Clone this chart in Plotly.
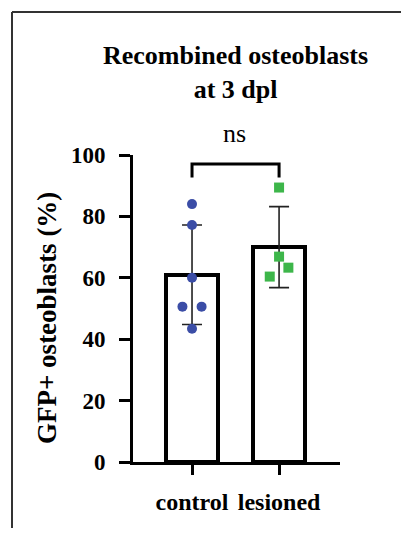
import plotly.graph_objects as go

categories = ["control", "lesioned"]
means = [61.0, 70.0]
sds = [16.2, 13.2]
control_vals = [84.0, 77.2, 60.0, 50.6, 50.6, 43.4]
control_jitter = [0.0, 0.0, 0.0, -0.11, 0.11, 0.0]
lesioned_vals = [89.4, 66.9, 63.3, 60.4]
lesioned_jitter = [0.0, 0.0, 0.107, -0.107]
y_ticks = [0, 20, 40, 60, 80, 100]
title_text = "Recombined osteoblasts<br>at 3 dpl"
y_title = "GFP+ osteoblasts (%)"
sig_label = "ns"

FONT = "Liberation Serif"
OFF = 8  # page body margin
W, H = 393, 520
L, T = 133 - OFF, 155 - OFF
pw, ph = 207, 307
R, B = W - L - pw, H - T - ph

def px_x(px):
    return (px - OFF - L) / pw

def px_y(py):
    return (T + ph - (py - OFF)) / ph

xs = list(range(len(categories)))

fig = go.Figure()
fig.add_trace(go.Bar(
    x=xs, y=means, width=0.6,
    marker=dict(color="white", line=dict(color="black", width=4)),
    hoverinfo="skip", showlegend=False,
))
fig.add_trace(go.Scatter(
    x=xs, y=means, mode="markers",
    marker=dict(size=1, color="rgba(0,0,0,0)"),
    error_y=dict(type="data", array=sds, visible=True, color="#222", thickness=1.6, width=10),
    showlegend=False, hoverinfo="skip",
))
fig.add_trace(go.Scatter(
    x=[xs[0] + j for j in control_jitter], y=control_vals, mode="markers",
    marker=dict(symbol="circle", size=10, color="#3B4DA6"),
    showlegend=False,
))
fig.add_trace(go.Scatter(
    x=[xs[1] + j for j in lesioned_jitter], y=lesioned_vals, mode="markers",
    marker=dict(symbol="square", size=10, color="#3DB64A"),
    showlegend=False,
))

# significance bracket
fig.add_trace(go.Scatter(
    x=[xs[0], xs[0], xs[1], xs[1]], y=[92.7, 97.1, 97.1, 92.7], mode="lines",
    line=dict(color="black", width=3), showlegend=False, hoverinfo="skip",
    cliponaxis=False,
))

fig.update_layout(
    width=W, height=H,
    margin=dict(l=L, r=R, t=T, b=B, pad=0),
    plot_bgcolor="white", paper_bgcolor="white",
    font=dict(family=FONT, color="black"),
    bargap=0,
    xaxis=dict(
        range=[-0.678, 1.70], tickmode="array", tickvals=xs, ticktext=categories,
        showline=True, linecolor="black", linewidth=3,
        ticks="outside", ticklen=10, tickwidth=3, tickcolor="black",
        showgrid=False, zeroline=False,
        tickfont=dict(family=FONT, size=24, color="black", weight="bold"),
        ticklabelstandoff=6,
    ),
    yaxis=dict(
        range=[0, 100], tickmode="array", tickvals=y_ticks,
        showline=True, linecolor="black", linewidth=3,
        ticks="outside", ticklen=11, tickwidth=3, tickcolor="black",
        showgrid=False, zeroline=False,
        tickfont=dict(family=FONT, size=23, color="black", weight="bold"),
        ticklabelstandoff=9,
    ),
    annotations=[
        dict(text="<b>" + title_text + "</b>", xref="paper", yref="paper",
             x=px_x(235), y=px_y(72), xanchor="center", yanchor="middle",
             showarrow=False, font=dict(family=FONT, size=26, color="black")),
        dict(text=sig_label, xref="paper", yref="paper",
             x=px_x(234), y=px_y(134), xanchor="center", yanchor="middle",
             showarrow=False, font=dict(family=FONT, size=26, color="black")),
        dict(text="<b>" + y_title + "</b>", xref="paper", yref="paper",
             x=px_x(47), y=px_y(318), xanchor="center", yanchor="middle",
             textangle=-90, showarrow=False, font=dict(family=FONT, size=27, color="black")),
    ],
    shapes=[
        dict(type="line", xref="paper", yref="paper",
             x0=px_x(12), x1=px_x(430), y0=px_y(12), y1=px_y(12),
             line=dict(color="#333", width=2), layer="above"),
        dict(type="line", xref="paper", yref="paper",
             x0=px_x(12), x1=px_x(12), y0=px_y(12), y1=px_y(580),
             line=dict(color="#333", width=2), layer="above"),
    ],
)

fig.write_html("out.html")
